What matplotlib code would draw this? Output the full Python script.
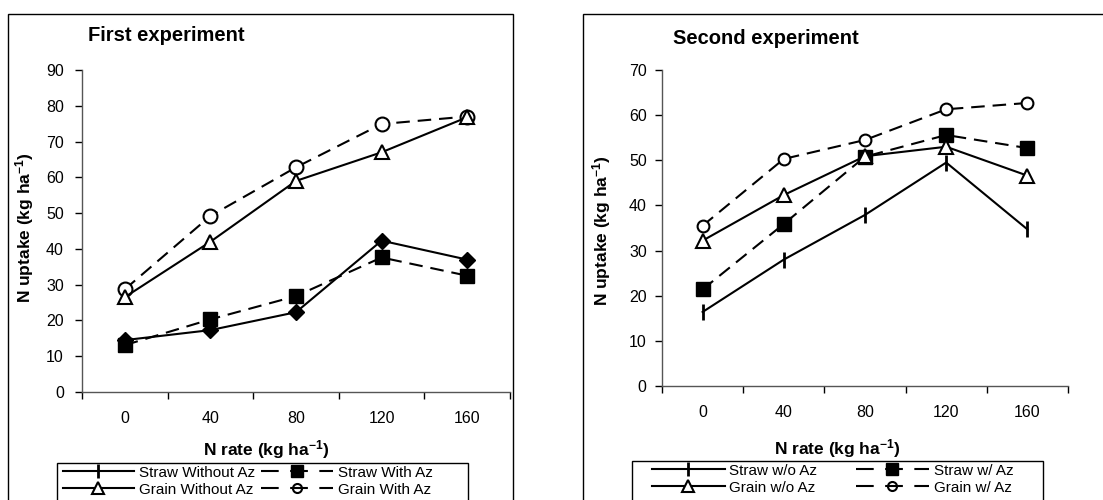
import matplotlib
matplotlib.use("Agg")
import matplotlib.pyplot as plt
from matplotlib.lines import Line2D
from matplotlib.patches import Rectangle
from matplotlib.ticker import FixedLocator, NullFormatter

plt.rcParams['font.family'] = ['Liberation Sans', 'DejaVu Sans']
plt.rcParams['mathtext.fontset'] = 'custom'
plt.rcParams['mathtext.rm'] = 'Liberation Sans:bold'
plt.rcParams['mathtext.it'] = 'Liberation Sans:bold'
plt.rcParams['mathtext.bf'] = 'Liberation Sans:bold'
plt.rcParams['mathtext.default'] = 'regular'

# ---- data ----
n_rates = ["0", "40", "80", "120", "160"]

# First experiment
e1_straw_without = [14.5, 17.3, 22.3, 42.3, 37.0]
e1_straw_with = [13.1, 20.3, 26.8, 37.6, 32.5]
e1_grain_without = [26.5, 42.0, 59.0, 67.0, 76.8]
e1_grain_with = [28.7, 49.2, 62.8, 74.9, 77.0]
e1_labels = ["Straw Without Az", "Straw With Az", "Grain Without Az", "Grain With Az"]

# Second experiment
e2_straw_without = [16.4, 28.0, 37.9, 49.5, 34.7]
e2_straw_with = [21.4, 35.9, 50.8, 55.6, 52.7]
e2_grain_without = [32.2, 42.3, 50.9, 53.0, 46.6]
e2_grain_with = [35.5, 50.3, 54.5, 61.3, 62.7]
e2_labels = ["Straw w/o Az", "Straw w/ Az", "Grain w/o Az", "Grain w/ Az"]

W, H = 1103, 500
fig = plt.figure(figsize=(W / 100, H / 100), dpi=100)

def fx(px):
    return px / W

def fy(py):
    return 1 - py / H

LW = 1.5
DASH = (6.5, 3.8)
LEG_DASH = (8.5, 5.5)
MS = 10

def frame(x0, y0, x1, y1, lw=1.0):
    fig.patches.append(Rectangle((fx(x0), fy(y1)), fx(x1) - fx(x0), fy(y0) - fy(y1),
                                 transform=fig.transFigure, fill=False, ec='black', lw=lw))

# panel frames
frame(8, 14, 513, 520)
frame(583, 14, 1200, 520)
# legend frames
frame(57, 463, 468, 520)
frame(632, 461, 1043, 520)


def style_axes(ax, ymax, ypad):
    x = list(range(len(n_rates)))
    ax.set_xlim(-0.5, len(n_rates) - 0.5)
    ax.set_ylim(0, ymax)
    ax.set_yticks(range(0, ymax + 1, 10))
    ax.xaxis.set_major_locator(FixedLocator([i - 0.5 for i in range(len(n_rates) + 1)]))
    ax.xaxis.set_major_formatter(NullFormatter())
    ax.xaxis.set_minor_locator(FixedLocator(x))
    ax.set_xticklabels(n_rates, minor=True)
    ax.tick_params(axis='x', which='major', direction='out', length=5, width=1)
    ax.tick_params(axis='x', which='minor', length=0, pad=14, labelsize=11.5)
    ax.tick_params(axis='y', direction='out', length=5, width=1, pad=ypad, labelsize=11.5)
    for s in ['top', 'right']:
        ax.spines[s].set_visible(False)
    for s in ['left', 'bottom']:
        ax.spines[s].set_linewidth(1.0)
        ax.spines[s].set_color('#555555')
    ax.patch.set_alpha(0)


# ---- left panel ----
ax1 = fig.add_axes([fx(82), fy(392), fx(510 - 82), fy(70) - fy(392)])
x = list(range(len(n_rates)))
ax1.plot(x, e1_grain_with, color='black', lw=LW, ls=(0, DASH), marker='o', ms=MS,
         mfc='white', mec='black', mew=1.5)
ax1.plot(x, e1_grain_without, color='black', lw=LW, ls='-', marker='^', ms=MS,
         mfc='white', mec='black', mew=1.5)
ax1.plot(x, e1_straw_with, color='black', lw=LW, ls=(0, DASH), marker='s', ms=MS,
         mfc='black', mec='black')
ax1.plot(x, e1_straw_without, color='black', lw=LW, ls='-', marker='D', ms=8,
         mfc='black', mec='black')
style_axes(ax1, 90, 8)

# ---- right panel ----
ax2 = fig.add_axes([fx(662), fy(386), fx(1068 - 662), fy(70) - fy(386)])
ax2.plot(x, e2_grain_with, color='black', lw=LW, ls=(0, DASH), marker='o', ms=8.5,
         mfc='white', mec='black', mew=1.5)
ax2.plot(x, e2_straw_with, color='black', lw=LW, ls=(0, DASH), marker='s', ms=MS,
         mfc='black', mec='black')
ax2.plot(x, e2_grain_without, color='black', lw=LW, ls='-', marker='^', ms=MS,
         mfc='white', mec='black', mew=1.5)
ax2.plot(x, e2_straw_without, color='black', lw=LW, ls='-', marker='|', ms=11,
         mec='black', mew=2)
style_axes(ax2, 70, 6)

# titles & labels
fig.text(fx(88), fy(35), "First experiment", fontsize=14.5, fontweight='bold', va='center', ha='left')
fig.text(fx(673), fy(38), "Second experiment", fontsize=14.5, fontweight='bold', va='center', ha='left')
fig.text(fx(25), fy(228), r"N uptake (kg ha$^{-1}$)", fontsize=12.5, fontweight='bold',
         rotation=90, va='center', ha='center')
fig.text(fx(602), fy(231), r"N uptake (kg ha$^{-1}$)", fontsize=12.5, fontweight='bold',
         rotation=90, va='center', ha='center')
fig.text(fx(266), fy(450), r"N rate (kg ha$^{-1}$)", fontsize=12.5, fontweight='bold',
         va='center', ha='center')
fig.text(fx(837), fy(449), r"N rate (kg ha$^{-1}$)", fontsize=12.5, fontweight='bold',
         va='center', ha='center')


def proxies():
    sw = Line2D([], [], color='black', lw=LW, ls='-', marker='|', ms=10, mew=2)
    gw = Line2D([], [], color='black', lw=LW, ls='-', marker='^', ms=8, mfc='white', mew=1.5)
    swa = Line2D([], [], color='black', lw=LW, ls=(0, LEG_DASH), marker='s', ms=8.5, mfc='black')
    gwa = Line2D([], [], color='black', lw=LW, ls=(0, LEG_DASH), marker='o', ms=6.5,
                 mfc='none', mew=1.5)
    return [sw, gw, swa, gwa]


h = proxies()
leg1 = fig.legend(h, [e1_labels[0], e1_labels[2], e1_labels[1], e1_labels[3]],
                  loc='upper left', bbox_to_anchor=(fx(61), fy(464)), ncol=2,
                  fontsize=11, frameon=False,
                  handlelength=4.7, handletextpad=0.3, columnspacing=0.4,
                  borderpad=0.1, labelspacing=0.2, borderaxespad=0)

h2 = proxies()
leg2 = fig.legend(h2, [e2_labels[0], e2_labels[2], e2_labels[1], e2_labels[3]],
                  loc='upper left', bbox_to_anchor=(fx(650), fy(462)), ncol=2,
                  fontsize=11, frameon=False,
                  handlelength=4.8, handletextpad=0.3, columnspacing=2.5,
                  borderpad=0.1, labelspacing=0.2, borderaxespad=0)

fig.savefig("out.png", dpi=100)
